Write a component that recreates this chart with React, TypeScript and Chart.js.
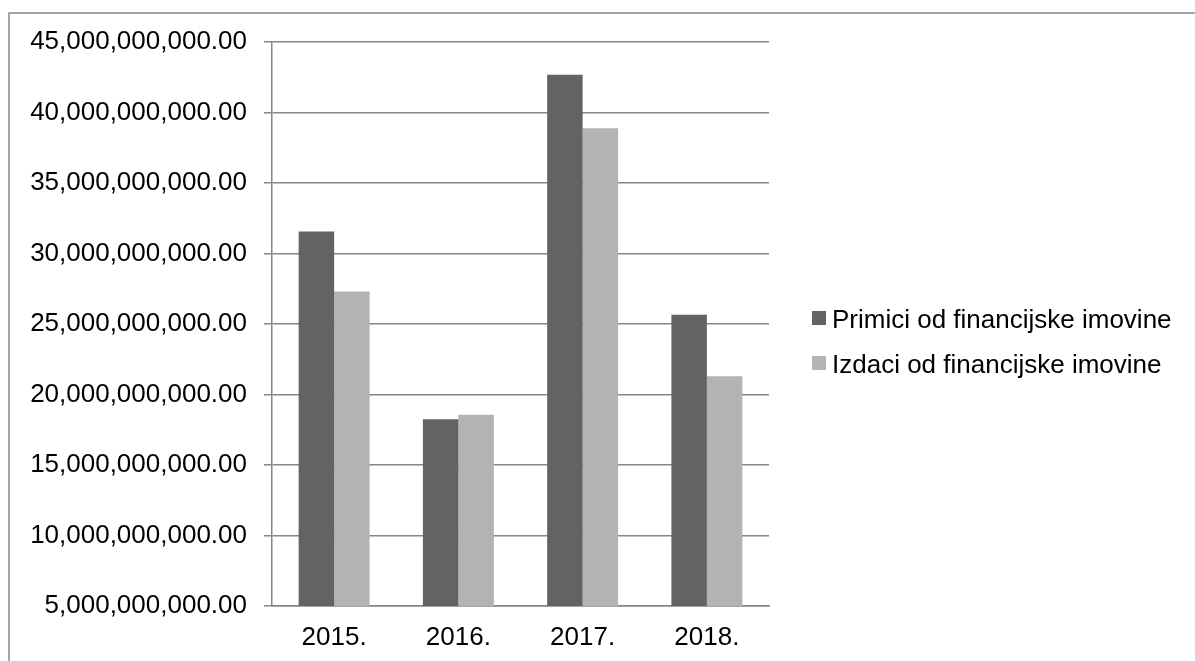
import React, { useEffect, useRef } from "react";
import { Chart, registerables } from "chart.js";

Chart.register(...registerables);

const categories = ["2015.", "2016.", "2017.", "2018."];
const primici = [31.56e9, 18.25e9, 42.68e9, 25.66e9];
const izdaci = [27.3e9, 18.56e9, 38.89e9, 21.29e9];
const seriesLabels = ["Primici od financijske imovine", "Izdaci od financijske imovine"];
const yMin = 5e9;
const yMax = 45e9;
const yStep = 5e9;

const FONT = "'Liberation Sans', Arial, sans-serif";
const GRID = "#868686";

const frameAndLegend = {
  id: "frameAndLegend",
  beforeDraw(chart: any) {
    const ctx = chart.ctx;
    ctx.save();
    ctx.strokeStyle = GRID;
    ctx.lineWidth = 1.5;
    ctx.beginPath();
    ctx.moveTo(9, chart.height + 5);
    ctx.lineTo(9, 13);
    ctx.lineTo(chart.width + 5, 13);
    ctx.stroke();
    ctx.restore();
  },
  afterDraw(chart: any) {
    const ctx = chart.ctx;
    const area = chart.chartArea;
    const boxX = area.right + 43;
    const firstY = 318;
    const rowGap = 45;
    ctx.save();
    ctx.font = `26px ${FONT}`;
    ctx.textBaseline = "alphabetic";
    ctx.textAlign = "left";
    chart.data.datasets.forEach((ds: any, i: number) => {
      const cy = firstY + i * rowGap;
      ctx.fillStyle = ds.backgroundColor;
      ctx.fillRect(boxX, cy - 7, 14, 14);
      ctx.fillStyle = "#000";
      ctx.fillText(ds.label, boxX + 20, cy + 9.5);
    });
    ctx.restore();
  },
};

export default function App() {
  const canvasRef = useRef<HTMLCanvasElement | null>(null);

  useEffect(() => {
    if (!canvasRef.current) return;
    const chart = new Chart(canvasRef.current, {
      type: "bar",
      data: {
        labels: categories,
        datasets: [
          {
            label: seriesLabels[0],
            data: primici,
            backgroundColor: "#636363",
            categoryPercentage: 0.571,
            barPercentage: 1,
          },
          {
            label: seriesLabels[1],
            data: izdaci,
            backgroundColor: "#b3b3b3",
            categoryPercentage: 0.571,
            barPercentage: 1,
          },
        ],
      },
      options: {
        animation: false,
        responsive: true,
        maintainAspectRatio: false,
        devicePixelRatio: 1,
        layout: { padding: { left: 0, top: 42, right: 426, bottom: 0 } },
        plugins: {
          legend: { display: false },
          tooltip: { enabled: false },
        },
        scales: {
          x: {
            grid: { display: false, drawTicks: false },
            border: { display: true, color: GRID, width: 1.5 },
            ticks: {
              color: "#000",
              font: { family: FONT, size: 26 },
              padding: 16,
              maxRotation: 0,
            },
            afterFit(scale: any) {
              scale.height = 55;
            },
          },
          y: {
            min: yMin,
            max: yMax,
            grid: {
              color: GRID,
              lineWidth: 1.5,
              tickLength: 8,
              drawTicks: true,
            },
            border: { display: true, color: GRID, width: 1.5 },
            ticks: {
              stepSize: yStep,
              color: "#000",
              font: { family: FONT, size: 26 },
              padding: 17,
              callback: (v: any) =>
                Number(v).toLocaleString("en-US", {
                  minimumFractionDigits: 2,
                  maximumFractionDigits: 2,
                }),
            },
            afterFit(scale: any) {
              scale.width = 272;
            },
          },
        },
      },
      plugins: [frameAndLegend],
    });
    return () => chart.destroy();
  }, []);

  return (
    <div
      style={{
        position: "absolute",
        left: 0,
        top: 0,
        width: 1195,
        height: 661,
        background: "#fff",
      }}
    >
      <canvas ref={canvasRef} />
    </div>
  );
}
